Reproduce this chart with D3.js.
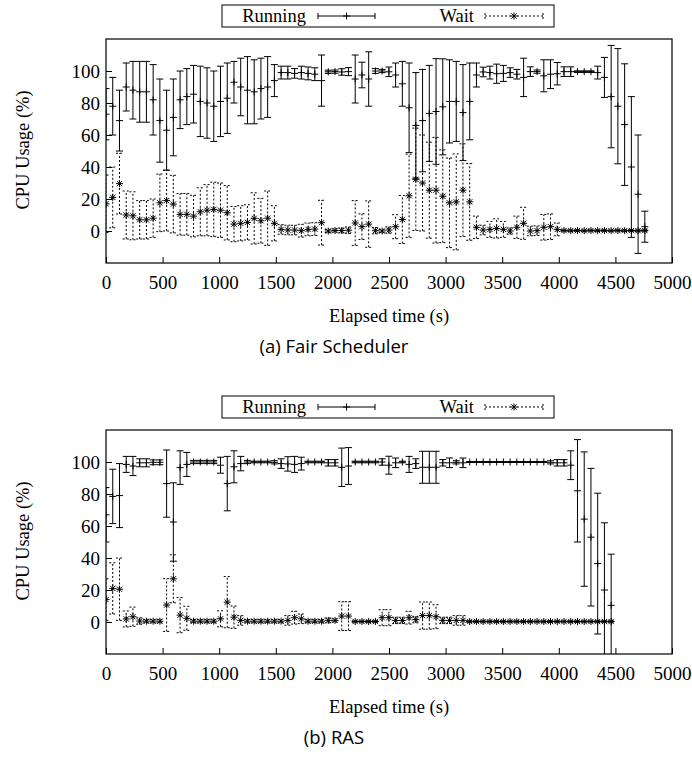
<!DOCTYPE html>
<html>
<head>
<meta charset="utf-8">
<script src="https://cdn.jsdelivr.net/npm/d3@7"></script>
<style>
  body { margin: 0; background: #fff; }
  svg { display: block; }
</style>
</head>
<body>
<div id="chart"></div>
<script>
// sampling interval of the monitor (s)
const sampleStep = 59.5;
const xTicks = [0, 500, 1000, 1500, 2000, 2500, 3000, 3500, 4000, 4500, 5000];
const yTicks = [0, 20, 40, 60, 80, 100];

// (a) Fair Scheduler
const fairRunMean = [73, 78, 69, 90, 88, 87, 87, 82, 69, 63, 71, 82, 84, 85.5, 81, 80, 78, 81, 83, 93,
  90, 88, 87, 89, 90, 94, 99, 99, 98.5, 99, 98.5, 98, 94, 99.5, 99.6, 99.4, 99.6, 95, 97.5, 95,
  100, 100, 99.5, 97.5, 92, 77, 66, 69, 73.5, 74.7, 77.6, 81, 81, 74, 81, 97.5, 99.4, 99, 98.3, 98.5,
  99, 98, 96, 99.6, 99.6, 97, 98, 98.3, 99.6, 99.6, 99.6, 99.6, 99.6, 99, 96, 84, 78, 66.5, 40, 23, 2.7];
const fairRunSd = [16, 18, 19, 15, 18, 19, 19, 22, 26, 25, 24, 18, 17.5, 18, 22, 22, 22, 22, 22, 13,
  18, 21, 20, 19, 19, 10, 4, 4, 3, 4, 4, 4, 16, 1, 1, 2, 2.5, 15, 8, 17,
  1.5, 1, 3, 7.5, 14, 28, 33, 32, 30, 33, 30, 26, 25, 30, 24, 7.5, 3, 4, 6, 5,
  3, 3, 12, 3, 1, 10, 9, 7, 3, 3, 0.5, 0.5, 0.5, 4, 12.5, 32, 36, 38, 44, 37, 9.7];
const fairWaitMean = [17, 21, 29.6, 10, 9.5, 7, 7, 8, 17.6, 19, 16.8, 10.4, 10.4, 9.3, 12, 13, 13.5, 13, 11.4, 4.3,
  4.8, 5.4, 7.9, 6.4, 8, 4.8, 1, 0.6, 0.6, 0.2, 1, 1.2, 5.2, 0, 0.3, 0.3, 0.5, 5, 2.7, 4.3,
  0.2, 0, 0.6, 2.7, 7.2, 22, 32.3, 30, 25.5, 25.5, 21.7, 17.6, 18.2, 25.5, 18.2, 2.3, 0.6, 1, 1.6, 1,
  0, 2.3, 4.8, 0, 0.2, 2.3, 2.7, 1, 0.3, 0.2, 0.3, 0.2, 0.3, 0.2, 0.3, 0.2, 0.3, 0.2, 0.3, 0.2, 0.3];
const fairWaitSd = [18, 19, 19, 15, 15, 12, 12, 12, 18, 19, 18, 13, 13, 13, 15, 16, 17, 17, 17, 11,
  11, 11, 16, 14, 17, 11, 3, 3, 3, 4, 4, 4, 14, 1, 1, 1.5, 2, 14, 8, 14.5,
  2, 1, 2, 7.5, 15, 26, 32, 30, 30, 33, 29, 28, 30, 29, 24, 7, 3, 5, 6, 5,
  2, 7, 10, 3, 3, 8, 8, 4, 0.5, 0.5, 0.5, 0.5, 0.5, 0.5, 0.5, 0.5, 0.5, 0.5, 0.5, 0.5, 0.5];

// (b) RAS
const rasRunMean = [67, 78.5, 79, 98.5, 97.5, 99.5, 99.5, 99.8, 99.8, 86.5, 62.5, 96.5, 98.5, 100, 100, 100, 100, 98, 86.5, 97,
  99, 100, 100, 100, 100, 99.8, 99, 98.8, 98.5, 99, 100, 100, 100, 99.5, 99.5, 96.7, 97.5, 100, 100, 100,
  100, 100, 98, 99.5, 100, 98.5, 99, 96.7, 96.7, 96.7, 99.5, 99.5, 99.8, 99.5, 100, 100, 100, 100, 100, 100,
  100, 100, 100, 100, 100, 100, 99.8, 99.5, 99.5, 98, 82, 64.3, 53, 36.5, 20, 10.4];
const rasRunSd = [17, 17, 20, 5, 6, 2.5, 2.5, 1.5, 1.5, 21, 24.5, 10.5, 7.5, 1, 1, 1, 1, 5, 17, 10,
  4.5, 1, 0.5, 0.5, 0.5, 1, 3, 4.5, 5, 4, 0.5, 0.5, 0.5, 2, 2, 12, 11.5, 0.5, 0.5, 0.5,
  0.5, 2, 5.6, 3, 0.5, 5, 3, 10, 10, 10, 2, 3, 1, 3, 0.3, 0.3, 0.3, 0.3, 0.3, 0.3,
  0.3, 0.3, 0.3, 0.3, 0.3, 0.3, 1, 2, 2, 9, 32, 42, 43, 44, 42, 32];
const rasWaitMean = [14, 21, 20.5, 1.9, 3.3, 0.6, 0.5, 0.5, 0.5, 10.6, 27, 4.3, 2.3, 0.5, 0.5, 0.5, 0.5, 2, 12.4, 3,
  1, 0.5, 0.5, 0.5, 0.5, 0.5, 0.5, 1, 2.7, 2, 0.5, 0.5, 0.5, 1, 1, 3.7, 3.7, 0.3, 0.3, 0.3,
  0.3, 2.7, 2.7, 1, 1, 2.7, 1.5, 4, 4, 3.3, 1, 1, 1, 1, 0.3, 0.3, 0.3, 0.3, 0.3, 0.3,
  0.3, 0.3, 0.3, 0.3, 0.3, 0.3, 0.3, 0.3, 0.3, 0.3, 0.3, 0.3, 0.3, 0.3, 0.3, 0.3];
const rasWaitSd = [13, 16, 19.5, 5, 6, 2, 1, 1, 1, 16.5, 15, 11, 7.5, 1, 1, 1, 1, 5, 16, 7,
  3, 1, 1, 1, 1, 1, 1, 3, 4, 3, 1, 1, 1, 1.5, 1, 9, 9, 0.5, 0.5, 0.5,
  0.5, 5, 5, 2, 2, 4, 2, 8.5, 8.5, 7.5, 2, 2, 3, 3, 0.5, 0.5, 0.5, 0.5, 0.5, 0.5,
  0.5, 0.5, 0.5, 0.5, 0.5, 0.5, 0.5, 0.5, 0.5, 0.5, 0.5, 0.5, 0.5, 0.5, 0.5, 0.5];

const width = 692, height = 761;
const serif = "'Liberation Serif', 'Times New Roman', serif";
const frame = { left: 106, right: 672, top: 39, bottom: 263 };
const capHalf = 3.5, ptHalf = 3.5;

const svg = d3.select("#chart").append("svg")
    .attr("width", width).attr("height", height)
    .attr("viewBox", [0, 0, width, height]).style("background", "#fff");

function drawStar(g, cx, cy) {
    const r = ptHalf, d = ptHalf * 0.75;
    g.append("path")
        .attr("d", `M${cx - r},${cy}H${cx + r}M${cx},${cy - r}V${cy + r}M${cx - d},${cy - d}L${cx + d},${cy + d}M${cx - d},${cy + d}L${cx + d},${cy - d}`)
        .attr("stroke", "#000").attr("stroke-width", 1).attr("fill", "none");
}
function drawPlus(g, cx, cy) {
    g.append("path")
        .attr("d", `M${cx - ptHalf},${cy}H${cx + ptHalf}M${cx},${cy - ptHalf}V${cy + ptHalf}`)
        .attr("stroke", "#000").attr("stroke-width", 1).attr("fill", "none");
}

function drawPanel(oy, runMean, runSd, waitMean, waitSd, caption, clipId) {
    const x = d3.scaleLinear().domain([0, 5000]).range([frame.left, frame.right]);
    const y = d3.scaleLinear().domain([-20, 120]).range([oy + frame.bottom, oy + frame.top]);

    svg.append("clipPath").attr("id", clipId).append("rect")
        .attr("x", frame.left).attr("y", oy + frame.top)
        .attr("width", frame.right - frame.left).attr("height", frame.bottom - frame.top);

    // axes (ticks inside, no mirror)
    const gx = svg.append("g").attr("transform", `translate(0,${oy + frame.bottom})`)
        .call(d3.axisBottom(x).tickValues(xTicks).tickSize(-6).tickPadding(13).tickFormat(d3.format("d")));
    const gy = svg.append("g").attr("transform", `translate(${frame.left},0)`)
        .call(d3.axisLeft(y).tickValues(yTicks).tickSize(-6).tickPadding(6));
    [gx, gy].forEach(g => {
        g.select(".domain").remove();
        g.selectAll("text").attr("fill", "#000")
            .style("font-family", serif).style("font-size", "19px");
        g.selectAll("line").attr("stroke", "#000");
    });

    const plot = svg.append("g").attr("clip-path", `url(#${clipId})`);

    // Running: solid error bars with '+'
    runMean.forEach((m, i) => {
        const px = x(i * sampleStep), s = runSd[i];
        const y0 = y(m - s), y1 = y(m + s);
        plot.append("path")
            .attr("d", `M${px},${y0}V${y1}M${px - capHalf},${y0}H${px + capHalf}M${px - capHalf},${y1}H${px + capHalf}`)
            .attr("stroke", "#000").attr("stroke-width", 1).attr("fill", "none");
        drawPlus(plot, px, y(m));
    });

    // Wait: dashed error bars with '*'
    waitMean.forEach((m, i) => {
        const px = x(i * sampleStep), s = waitSd[i];
        const y0 = y(m - s), y1 = y(m + s);
        plot.append("path")
            .attr("d", `M${px},${y0}V${y1}M${px - capHalf},${y0}H${px + capHalf}M${px - capHalf},${y1}H${px + capHalf}`)
            .attr("stroke", "#000").attr("stroke-width", 1).attr("stroke-dasharray", "2,2").attr("fill", "none");
        drawStar(plot, px, y(m));
    });

    svg.append("rect")
        .attr("x", frame.left).attr("y", oy + frame.top)
        .attr("width", frame.right - frame.left).attr("height", frame.bottom - frame.top)
        .attr("fill", "none").attr("stroke", "#000").attr("stroke-width", 1.2);

    // legend
    const leg = svg.append("g").attr("transform", `translate(0,${oy})`);
    leg.append("rect").attr("x", 222).attr("y", 5).attr("width", 332).attr("height", 22)
        .attr("fill", "none").attr("stroke", "#000").attr("stroke-width", 1);
    leg.append("text").attr("x", 306).attr("y", 22).attr("text-anchor", "end")
        .style("font-family", serif).style("font-size", "18.5px").text("Running");
    leg.append("path").attr("d", "M318,16H375M318,13V19M375,13V19")
        .attr("stroke", "#000").attr("stroke-width", 1).attr("fill", "none");
    drawPlus(leg, 346.5, 16);
    leg.append("text").attr("x", 474).attr("y", 22).attr("text-anchor", "end")
        .style("font-family", serif).style("font-size", "18.5px").text("Wait");
    leg.append("path").attr("d", "M485,16H543M485,13V19M543,13V19")
        .attr("stroke", "#000").attr("stroke-width", 1).attr("stroke-dasharray", "2,2").attr("fill", "none");
    drawStar(leg, 514, 16);

    // axis titles + caption
    svg.append("text").attr("transform", `translate(29,${oy + 150}) rotate(-90)`)
        .attr("text-anchor", "middle").style("font-family", serif).style("font-size", "18.5px")
        .text("CPU Usage (%)");
    svg.append("text").attr("x", (frame.left + frame.right) / 2).attr("y", oy + 322)
        .attr("text-anchor", "middle").style("font-family", serif).style("font-size", "18.5px")
        .text("Elapsed time (s)");
    svg.append("text").attr("x", 334).attr("y", oy + 353)
        .attr("text-anchor", "middle").style("font-family", "'Open Sans', sans-serif").style("font-size", "18.5px")
        .text(caption);
}

drawPanel(0, fairRunMean, fairRunSd, fairWaitMean, fairWaitSd, "(a) Fair Scheduler", "clipA");
drawPanel(391, rasRunMean, rasRunSd, rasWaitMean, rasWaitSd, "(b) RAS", "clipB");
</script>
</body>
</html>
